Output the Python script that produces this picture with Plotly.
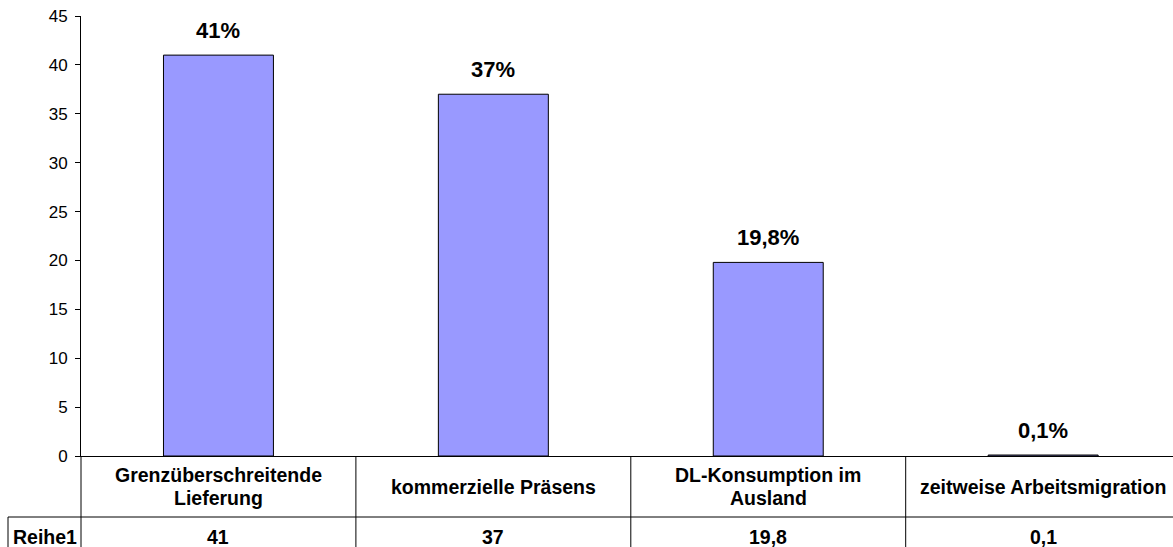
import plotly.graph_objects as go

# ---- data ----
categories = ["Grenzüberschreitende\nLieferung", "kommerzielle Präsens",
              "DL-Konsumption im\nAusland", "zeitweise Arbeitsmigration"]
values = [41, 37, 19.8, 0.1]
series_name = "Reihe1"
y_ticks = [0, 5, 10, 15, 20, 25, 30, 35, 40, 45]

W, H = 1173, 547
ML, MR, MT, MB = 81, 0, 16, 91
PW, PH = W - ML - MR, H - MT - MB
CAT_W = 274.9  # pixel width of one category slot
FONT = "Arial, Liberation Sans, sans-serif"


def fmt(v):
    s = ("%g" % v).replace(".", ",")
    return s


def py(p):  # pixel y -> paper y
    return (H - MB - p) / PH


def px(p):  # pixel x -> paper x
    return (p - ML) / PW


xs = list(range(len(values)))

fig = go.Figure()
fig.add_trace(go.Bar(
    x=xs, y=values, width=0.4,
    marker=dict(color="#9999FF", line=dict(color="black", width=1)),
    hoverinfo="skip", showlegend=False,
))

annotations = []
# bar value labels
for x, v in zip(xs, values):
    annotations.append(dict(
        x=x, y=v, xref="x", yref="y", text="<b>%s%%</b>" % fmt(v),
        showarrow=False, yanchor="bottom", yshift=10,
        font=dict(family=FONT, size=22, color="black"),
    ))

# table header (category names)
HEAD_CENTER = 486.5
LINE_GAP = 22.5
for x, c in zip(xs, categories):
    lines = c.split("\n")
    n = len(lines)
    for i, ln in enumerate(lines):
        yc = HEAD_CENTER + (i - (n - 1) / 2) * LINE_GAP
        annotations.append(dict(
            x=x, y=py(yc), xref="x", yref="paper", text="<b>%s</b>" % ln,
            showarrow=False, yanchor="middle", xanchor="center",
            font=dict(family=FONT, size=19.5, color="black"),
        ))

# table data row
ROW_CENTER = 537
for x, v in zip(xs, values):
    annotations.append(dict(
        x=x, y=py(ROW_CENTER), xref="x", yref="paper", text="<b>%s</b>" % fmt(v),
        showarrow=False, yanchor="middle", xanchor="center",
        font=dict(family=FONT, size=19.5, color="black"),
    ))
annotations.append(dict(
    x=px(44.5), y=py(ROW_CENTER), xref="paper", yref="paper",
    text="<b>%s</b>" % series_name, showarrow=False,
    yanchor="middle", xanchor="center",
    font=dict(family=FONT, size=19.5, color="black"),
))

# table grid lines
shapes = []
line = dict(color="black", width=1)
BOTTOM = 570
# horizontal line between header and data row
shapes.append(dict(type="line", xref="paper", yref="paper",
                   x0=px(8), x1=1.0, y0=py(517), y1=py(517), line=line))
# left border of series-name cell
shapes.append(dict(type="line", xref="paper", yref="paper",
                   x0=px(8), x1=px(8), y0=py(517), y1=py(BOTTOM), line=line))
# continuation of the value axis through the table
shapes.append(dict(type="line", xref="paper", yref="paper",
                   x0=0, x1=0, y0=0, y1=py(BOTTOM), line=line))
# category dividers
for x in xs[:-1]:
    shapes.append(dict(type="line", xref="x", yref="paper",
                       x0=x + 0.5, x1=x + 0.5, y0=0, y1=py(BOTTOM), line=line))

fig.update_layout(
    width=W, height=H,
    margin=dict(l=ML, r=MR, t=MT, b=MB, pad=0),
    paper_bgcolor="white", plot_bgcolor="white",
    bargap=0.6,
    xaxis=dict(range=[-0.5, -0.5 + PW / CAT_W], showticklabels=False,
               ticks="", showgrid=False, zeroline=False,
               showline=True, linecolor="black", linewidth=1, fixedrange=True),
    yaxis=dict(range=[0, 45], tickvals=y_ticks, ticks="outside", ticklen=5,
               tickcolor="black", showgrid=False, zeroline=False,
               showline=True, linecolor="black", linewidth=1,
               tickfont=dict(family=FONT, size=17, color="black"),
               ticklabelstandoff=4, fixedrange=True),
    annotations=annotations,
    shapes=shapes,
    showlegend=False,
)

fig.write_html("out.html")
